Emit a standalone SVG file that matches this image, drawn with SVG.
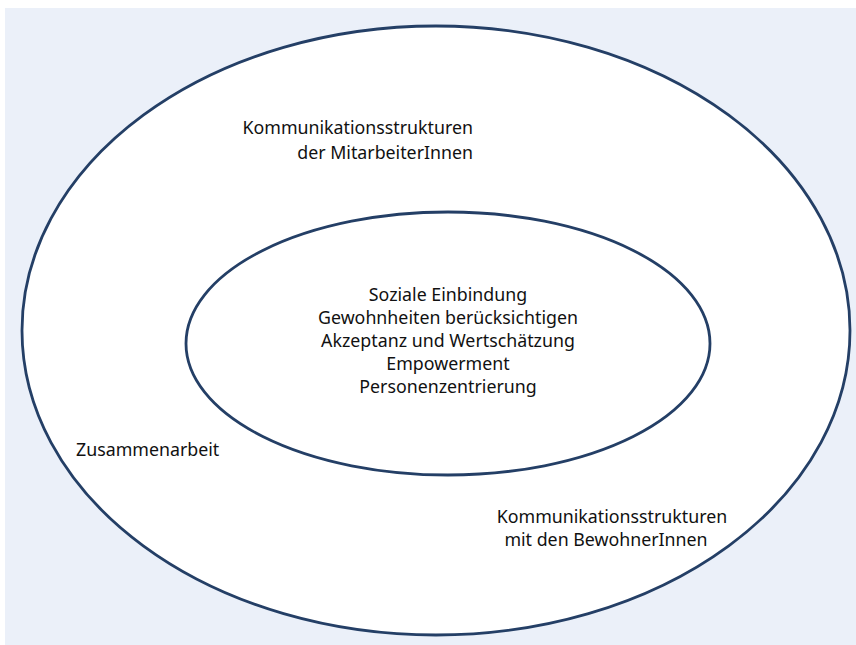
<svg xmlns="http://www.w3.org/2000/svg" width="856" height="645" viewBox="0 0 856 645">
<style>
.ring{fill:#fff;stroke:#243F66;stroke-width:2.8}
text{font-family:"Noto Sans","Open Sans",sans-serif;font-size:17.8px;fill:#111}
.c{text-anchor:middle}
.r{text-anchor:end}
</style>
<rect x="0" y="0" width="856" height="645" fill="#fff"/>
<rect x="5" y="8" width="851" height="637" fill="#EBF0F9"/>
<g id="outer">
<ellipse class="ring" cx="436" cy="330.5" rx="414" ry="304.5"/>
<text class="r" x="473" y="134">Kommunikationsstrukturen</text>
<text class="r" x="473" y="159">der MitarbeiterInnen</text>
<text x="76" y="456">Zusammenarbeit</text>
<text class="c" x="612" y="523">Kommunikationsstrukturen</text>
<text class="c" x="606" y="546">mit den BewohnerInnen</text>
</g>
<g id="inner">
<ellipse class="ring" cx="448" cy="343.5" rx="262" ry="131.5"/>
<text class="c" x="448" y="301">Soziale Einbindung</text>
<text class="c" x="448" y="324">Gewohnheiten berücksichtigen</text>
<text class="c" x="448" y="347">Akzeptanz und Wertschätzung</text>
<text class="c" x="448" y="370">Empowerment</text>
<text class="c" x="448" y="393">Personenzentrierung</text>
</g>
<g id="connectors"/>
</svg>
